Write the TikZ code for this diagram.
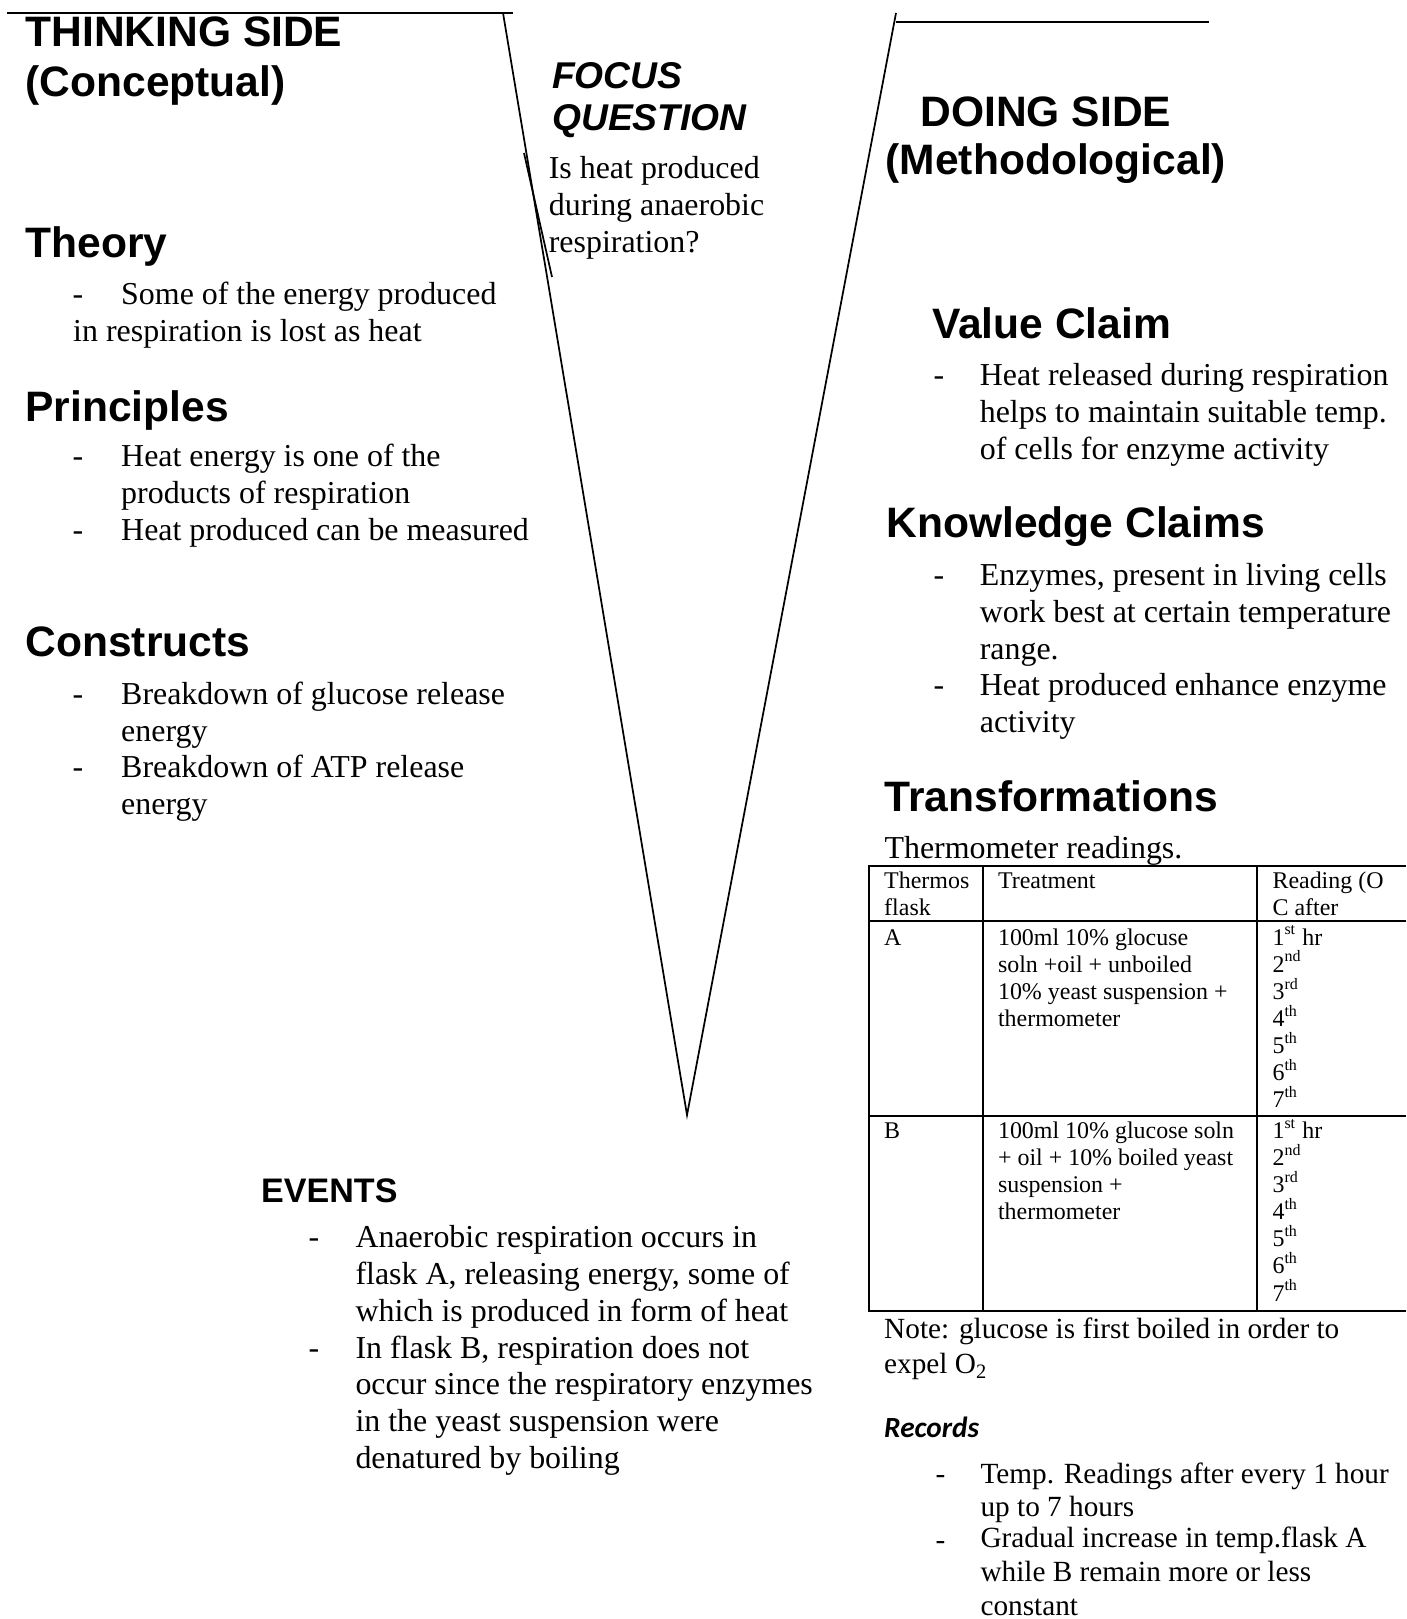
\documentclass[tikz,border=0pt]{standalone}
\usepackage{fontspec}
\setmainfont{Liberation Serif}
\setsansfont{Liberation Sans}
\newfontfamily\recfont{Carlito}

\newcommand{\headfont}{\fontsize{16}{18.9}\selectfont\sffamily\bfseries}
\newcommand{\bodyfont}{\fontsize{12}{13.8}\selectfont\rmfamily}
\newcommand{\cellfont}{\fontsize{9}{10.2}\selectfont\rmfamily}
\newcommand{\smallbody}{\fontsize{11}{12.6}\selectfont\rmfamily}
\newcommand{\hourlist}{1\textsuperscript{st} hr\\2\textsuperscript{nd}\\3\textsuperscript{rd}\\4\textsuperscript{th}\\5\textsuperscript{th}\\6\textsuperscript{th}\\7\textsuperscript{th}}

\begin{document}
\begin{tikzpicture}[
    x={(0.37594pt,0)}, y={(0,-0.37594pt)},
    head/.style={anchor=base west, inner sep=0pt, font=\headfont},
    body/.style={anchor=base west, inner sep=0pt, align=left, font=\bodyfont},
    bullet/.style={anchor=base west, inner sep=0pt, font=\bodyfont},
    cell/.style={anchor=base west, inner sep=0pt, align=left, font=\cellfont},
    small/.style={anchor=base west, inner sep=0pt, align=left, font=\smallbody},
    vline/.style={line width=0.65pt},
    grid/.style={line width=0.7pt}
  ]
    \useasboundingbox (0,0) rectangle (1406,1619);

    % the V
    \coordinate (tlstart) at (7,13.3);
    \coordinate (tlend) at (513,13.3);
    \coordinate (ltop) at (503,13);
    \coordinate (vtip) at (687,1115);
    \coordinate (rtop) at (896,13);
    \coordinate (trstart) at (896,21.7);
    \coordinate (trend) at (1209,21.7);
    \coordinate (fqa) at (524,153);
    \coordinate (fqb) at (552,277);
    \draw[vline] (tlstart) -- (tlend);
    \draw[vline] (ltop) -- (vtip) -- (rtop);
    \draw[vline] (trstart) -- (trend);
    \draw[vline] (fqa) -- (fqb);

    % thinking side (multi-line nodes sit on their last line)
    \node[head] (think) at (25,46.7) {THINKING SIDE};
    \node[head] (concept) at (25,97) {(Conceptual)};
    \node[head] (theory) at (25,258) {Theory};
    \node[bullet] (thd) at (72,305) {-};
    \node[body] (tha) at (120.7,305) {Some of the energy produced};
    \node[body] (thb) at (72.7,341.7) {in respiration is lost as heat};
    \node[head] (princ) at (25,421.7) {Principles};
    \node[bullet] (prd1) at (72,466.7) {-};
    \node[body] (pr1) at (120.7,503.4) {Heat energy is one of the\\products of respiration};
    \node[bullet] (prd2) at (72,540.5) {-};
    \node[body] (pr2) at (120.7,540.5) {Heat produced can be measured};
    \node[head] (constr) at (25,656.7) {Constructs};
    \node[bullet] (cod1) at (72,704.3) {-};
    \node[body] (co1) at (120.7,741) {Breakdown of glucose release\\energy};
    \node[bullet] (cod2) at (72,777.7) {-};
    \node[body] (co2) at (120.7,814.4) {Breakdown of ATP release\\energy};

    % focus question
    \node[anchor=base west, inner sep=0pt, align=left,
          font=\fontsize{14}{15.7}\selectfont\sffamily\bfseries\itshape] (focus) at (551.7,130.1) {FOCUS\\QUESTION};
    \node[body] (question) at (548.3,252.2) {Is heat produced\\during anaerobic\\respiration?};

    % doing side
    \node[head] (doing) at (920,126.7) {DOING SIDE};
    \node[head] (method) at (885,175) {(Methodological)};
    \node[head] (value) at (931.7,338.3) {Value Claim};
    \node[bullet] (vad) at (933,386) {-};
    \node[body] (va) at (979.3,459.4) {Heat released during respiration\\helps to maintain suitable temp.\\of cells for enzyme activity};
    \node[head] (know) at (886,537.2) {Knowledge Claims};
    \node[bullet] (knd1) at (933,585.8) {-};
    \node[body] (kn1) at (979.3,659.2) {Enzymes, present in living cells\\work best at certain temperature\\range.};
    \node[bullet] (knd2) at (933,695.8) {-};
    \node[body] (kn2) at (979.3,732.5) {Heat produced enhance enzyme\\activity};
    \node[head] (transf) at (884,811) {Transformations};
    \node[body] (readings) at (884,858.2) {Thermometer readings.};

    % table
    \draw[grid] (1406,866) -- (868.7,866) -- (868.7,1311) -- (1406,1311);
    \draw[grid] (868.7,920.7) -- (1406,920.7);
    \draw[grid] (868.7,1116) -- (1406,1116);
    \draw[grid] (983,866) -- (983,1311);
    \draw[grid] (1257,866) -- (1257,1311);
    \node[cell] (hflask) at (883.7,915.4) {Thermos\\flask};
    \node[cell] (htreat) at (997.5,888.3) {Treatment};
    \node[cell] (hread) at (1272,915.4) {Reading (O\\C after};
    \node[cell] (flaskA) at (883.7,945) {A};
    \node[cell] (treatA) at (997.5,1026.4) {100ml 10\% glocuse\\soln +oil + unboiled\\10\% yeast suspension +\\thermometer};
    \node[cell] (readA) at (1272,1107.8) {\hourlist};
    \node[cell] (flaskB) at (883.7,1138.3) {B};
    \node[cell] (treatB) at (997.5,1219.7) {100ml 10\% glucose soln\\+ oil + 10\% boiled yeast\\suspension +\\thermometer};
    \node[cell] (readB) at (1272,1301.1) {\hourlist};

    \node[anchor=base west, inner sep=0pt, align=left, font=\fontsize{11}{13.2}\selectfont] (note) at (883.7,1373.8) {Note: glucose is first boiled in order to\\expel O\textsubscript{2}};
    \node[anchor=base west, inner sep=0pt, font=\fontsize{11}{13}\selectfont\recfont\bfseries\itshape] (records) at (883.7,1437.2) {Records};
    \node[small] (red1) at (935,1483.2) {-};
    \node[small] (re1) at (980,1516.7) {Temp. Readings after every 1 hour\\up to 7 hours};
    \node[small] (red2) at (935,1549.3) {-};
    \node[small] (re2) at (980,1615) {Gradual increase in temp.flask A\\while B remain more or less\\constant};

    % events
    \node[anchor=base west, inner sep=0pt, font=\fontsize{12.8}{15}\selectfont\sffamily\bfseries] (events) at (260.7,1202.7) {EVENTS};
    \node[bullet] (evd1) at (308,1247.7) {-};
    \node[body] (ev1) at (355,1321.1) {Anaerobic respiration occurs in\\flask A, releasing energy, some of\\which is produced in form of heat};
    \node[bullet] (evd2) at (308,1358.2) {-};
    \node[body] (ev2) at (355,1468.3) {In flask B, respiration does not\\occur since the respiratory enzymes\\in the yeast suspension were\\denatured by boiling};
\end{tikzpicture}
\end{document}
